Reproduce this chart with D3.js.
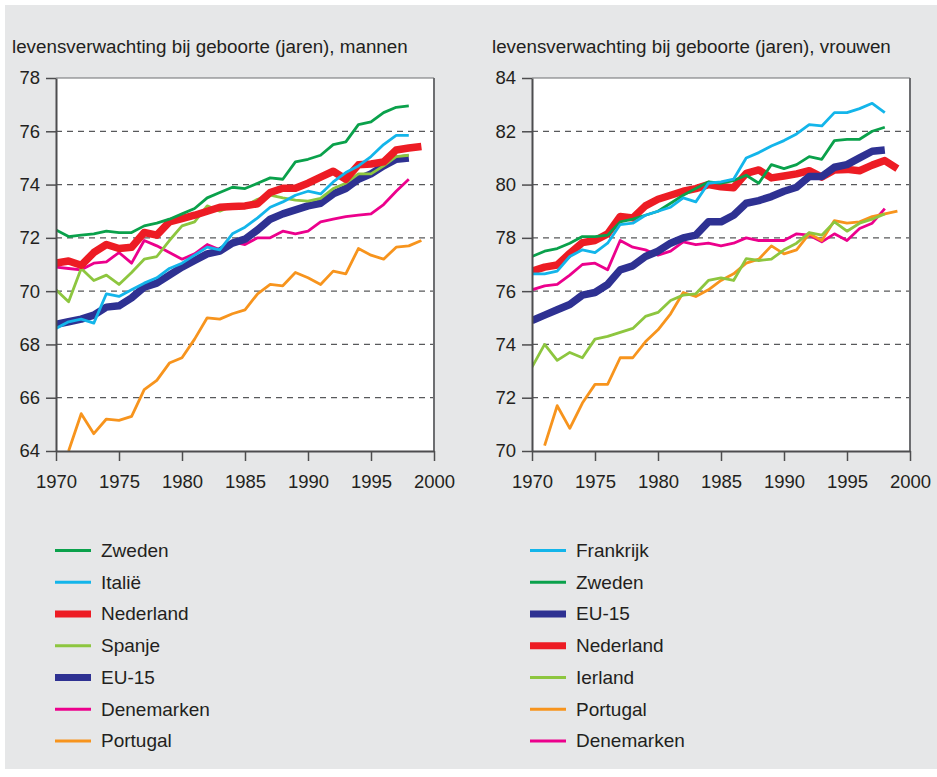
<!DOCTYPE html>
<html>
<head>
<meta charset="utf-8">
<script src="https://cdn.jsdelivr.net/npm/d3@7"></script>
<style>
  html, body { margin: 0; padding: 0; background: #ffffff; }
  svg { display: block; }
  text { font-family: "Liberation Sans", Arial, Helvetica, sans-serif; fill: #231f20; }
</style>
</head>
<body>
<svg id="chart" width="937" height="777"></svg>
<script>
// ---------- data ----------
const years = [1970,1971,1972,1973,1974,1975,1976,1977,1978,1979,1980,1981,1982,1983,1984,1985,1986,1987,1988,1989,1990,1991,1992,1993,1994,1995,1996,1997,1998,1999];
const xTicks = [1970,1975,1980,1985,1990,1995,2000];
const yTicksMen = [64,66,68,70,72,74,76,78];
const yTicksWomen = [70,72,74,76,78,80,82,84];
const titleMen = "levensverwachting bij geboorte (jaren), mannen";
const titleWomen = "levensverwachting bij geboorte (jaren), vrouwen";

// men
const zwedenM     = [72.3,72.05,72.1,72.15,72.25,72.2,72.2,72.45,72.55,72.7,72.9,73.1,73.5,73.7,73.9,73.85,74.05,74.25,74.2,74.85,74.95,75.1,75.5,75.6,76.25,76.35,76.7,76.9,76.95,null];
const italieM     = [68.6,68.85,68.95,68.8,69.9,69.8,70.05,70.3,70.5,70.85,71.05,71.35,71.65,71.55,72.15,72.4,72.75,73.15,73.35,73.6,73.75,73.65,74.1,74.45,74.7,75.05,75.5,75.85,75.85,null];
const nederlandM  = [71.05,71.13,70.97,71.45,71.75,71.6,71.65,72.2,72.1,72.6,72.72,72.85,73.0,73.15,73.18,73.2,73.28,73.7,73.86,73.86,74.05,74.28,74.5,74.2,74.74,74.77,74.85,75.3,75.37,75.43];
const spanjeM     = [70.05,69.6,70.85,70.4,70.6,70.25,70.7,71.2,71.3,71.9,72.45,72.6,73.2,73.0,73.2,73.2,73.45,73.6,73.5,73.42,73.38,73.48,73.85,74.05,74.4,74.4,74.7,75.05,75.1,null];
const eu15M       = [68.75,68.85,68.95,69.1,69.4,69.45,69.75,70.15,70.3,70.6,70.9,71.15,71.4,71.5,71.8,71.95,72.3,72.7,72.9,73.05,73.2,73.3,73.65,73.85,74.2,74.4,74.7,74.95,75.0,null];
const denemarkenM = [70.9,70.85,70.8,71.05,71.1,71.45,71.05,71.9,71.7,71.45,71.2,71.4,71.75,71.55,71.85,71.75,72.0,72.0,72.25,72.15,72.25,72.6,72.7,72.8,72.85,72.9,73.25,73.75,74.2,null];
const portugalM   = [null,64.0,65.4,64.65,65.2,65.15,65.3,66.3,66.65,67.3,67.5,68.2,69.0,68.95,69.15,69.3,69.9,70.25,70.2,70.7,70.5,70.25,70.75,70.65,71.6,71.35,71.2,71.65,71.7,71.9];

// women
const frankrijkV  = [76.65,76.65,76.75,77.3,77.55,77.45,77.8,78.5,78.55,78.85,79.0,79.15,79.5,79.35,80.05,80.1,80.2,81.0,81.2,81.45,81.65,81.9,82.25,82.2,82.7,82.7,82.85,83.05,82.7,null];
const zwedenV     = [77.3,77.5,77.6,77.8,78.05,78.05,78.1,78.6,78.7,78.85,79.0,79.3,79.6,79.85,80.1,80.05,80.15,80.35,80.05,80.75,80.6,80.75,81.05,80.95,81.65,81.7,81.7,82.0,82.15,null];
const eu15V       = [74.9,75.1,75.3,75.5,75.85,75.95,76.25,76.8,76.95,77.3,77.5,77.8,78.0,78.1,78.6,78.6,78.85,79.3,79.4,79.55,79.75,79.9,80.3,80.3,80.65,80.75,81.0,81.25,81.3,null];
const nederlandV  = [76.75,76.9,76.98,77.42,77.82,77.9,78.15,78.8,78.75,79.2,79.45,79.6,79.75,79.85,80.0,79.92,79.88,80.42,80.55,80.25,80.32,80.4,80.52,80.28,80.55,80.57,80.52,80.73,80.9,80.6];
const ierlandV    = [73.15,74.0,73.4,73.7,73.5,74.2,74.3,74.45,74.6,75.05,75.2,75.65,75.85,75.9,76.4,76.5,76.4,77.22,77.15,77.2,77.55,77.8,78.2,78.1,78.6,78.25,78.55,78.7,78.9,null];
const portugalV   = [null,70.2,71.7,70.85,71.8,72.5,72.5,73.5,73.5,74.1,74.55,75.15,75.95,75.8,76.05,76.4,76.65,77.05,77.2,77.7,77.4,77.55,78.15,77.9,78.65,78.55,78.6,78.8,78.9,79.0];
const denemarkenV = [76.05,76.2,76.25,76.6,77.0,77.05,76.8,77.9,77.65,77.55,77.35,77.5,77.85,77.75,77.8,77.7,77.8,78.0,77.9,77.9,77.9,78.15,78.1,77.85,78.15,77.9,78.35,78.55,79.1,null];

const seriesMen = [
  {name:"Zweden", values:zwedenM, color:"#0aa14b", thick:false},
  {name:"Italië", values:italieM, color:"#13b5ea", thick:false},
  {name:"Nederland", values:nederlandM, color:"#ed1c24", thick:true},
  {name:"Spanje", values:spanjeM, color:"#8dc63f", thick:false},
  {name:"EU-15", values:eu15M, color:"#2e3192", thick:true},
  {name:"Denemarken", values:denemarkenM, color:"#ec008c", thick:false},
  {name:"Portugal", values:portugalM, color:"#f7941d", thick:false}
];
const seriesWomen = [
  {name:"Frankrijk", values:frankrijkV, color:"#13b5ea", thick:false},
  {name:"Zweden", values:zwedenV, color:"#0aa14b", thick:false},
  {name:"EU-15", values:eu15V, color:"#2e3192", thick:true},
  {name:"Nederland", values:nederlandV, color:"#ed1c24", thick:true},
  {name:"Ierland", values:ierlandV, color:"#8dc63f", thick:false},
  {name:"Portugal", values:portugalV, color:"#f7941d", thick:false},
  {name:"Denemarken", values:denemarkenV, color:"#ec008c", thick:false}
];

// ---------- drawing ----------
const svg = d3.select("#chart");
svg.append("rect").attr("x",5).attr("y",5).attr("width",932).attr("height",764).attr("fill","#e6e7e8");

function panel(opts) {
  const {left, top, width, height, yDomain, yTicks, title, titleX, series, legendX, clipId} = opts;
  const g = svg.append("g");
  const x = d3.scaleLinear().domain([1970, 2000]).range([left, left + width]);
  const y = d3.scaleLinear().domain(yDomain).range([top + height, top]);

  g.append("text").attr("x", titleX).attr("y", 53).attr("font-size", 18.8).text(title);

  g.append("rect").attr("x", left).attr("y", top).attr("width", width).attr("height", height).attr("fill", "#ffffff");

  // gridlines
  g.append("g").selectAll("line").data(yTicks.filter(t => t !== yDomain[0] && t !== yDomain[1]))
    .join("line")
    .attr("x1", left).attr("x2", left + width)
    .attr("y1", d => y(d)).attr("y2", d => y(d))
    .attr("stroke", "#58595b").attr("stroke-width", 1.3).attr("stroke-dasharray", "6,5");

  svg.append("clipPath").attr("id", clipId).append("rect")
    .attr("x", left).attr("y", top - 2).attr("width", width).attr("height", height + 4);

  const line = d3.line()
    .defined(d => d[1] !== null)
    .x(d => x(d[0])).y(d => y(d[1]));

  const lg = g.append("g").attr("clip-path", `url(#${clipId})`);
  series.slice().reverse().forEach(s => {
    lg.append("path")
      .datum(years.map((yr, i) => [yr, s.values[i]]))
      .attr("fill", "none")
      .attr("stroke", s.color)
      .attr("stroke-width", s.thick ? 7.5 : 2.8)
      .attr("stroke-linejoin", "round")
      .attr("d", line);
  });

  // frame top/right
  g.append("line").attr("x1", left).attr("x2", left + width).attr("y1", top).attr("y2", top)
    .attr("stroke", "#6d6e71").attr("stroke-width", 1.2);
  g.append("line").attr("x1", left + width).attr("x2", left + width).attr("y1", top).attr("y2", top + height)
    .attr("stroke", "#6d6e71").attr("stroke-width", 2);

  const yAxis = g.append("g").attr("transform", `translate(${left},0)`)
    .call(d3.axisLeft(y).tickValues(yTicks).tickSize(10).tickPadding(6).tickSizeOuter(0).tickFormat(d3.format("d")));
  const xAxis = g.append("g").attr("transform", `translate(0,${top + height})`)
    .call(d3.axisBottom(x).tickValues(xTicks).tickSize(10).tickPadding(14).tickSizeOuter(0).tickFormat(d3.format("d")));
  [yAxis, xAxis].forEach(a => {
    a.select(".domain").attr("stroke", "#4d4d4f").attr("stroke-width", 2);
    a.selectAll(".tick line").attr("stroke", "#4d4d4f").attr("stroke-width", 1.5);
    a.selectAll(".tick text").attr("font-size", 18.5).attr("fill", "#231f20")
      .attr("font-family", "'Liberation Sans', Arial, sans-serif");
  });

  // legend
  const rowY = d3.scaleLinear().domain([0, 6]).range([550.5, 741]);
  const leg = g.append("g");
  series.forEach((s, i) => {
    leg.append("line")
      .attr("x1", legendX).attr("x2", legendX + 36)
      .attr("y1", rowY(i)).attr("y2", rowY(i))
      .attr("stroke", s.color).attr("stroke-width", s.thick ? 7 : 3);
    leg.append("text")
      .attr("x", legendX + 46).attr("y", rowY(i)).attr("dy", "0.34em")
      .attr("font-size", 19).text(s.name);
  });
}

panel({left:56, top:78, width:378, height:373, yDomain:[64,78], yTicks:yTicksMen,
  title:titleMen, titleX:12, series:seriesMen, legendX:55, clipId:"clipMen"});
panel({left:532, top:78, width:378, height:373, yDomain:[70,84], yTicks:yTicksWomen,
  title:titleWomen, titleX:492, series:seriesWomen, legendX:530, clipId:"clipWomen"});
</script>
</body>
</html>
